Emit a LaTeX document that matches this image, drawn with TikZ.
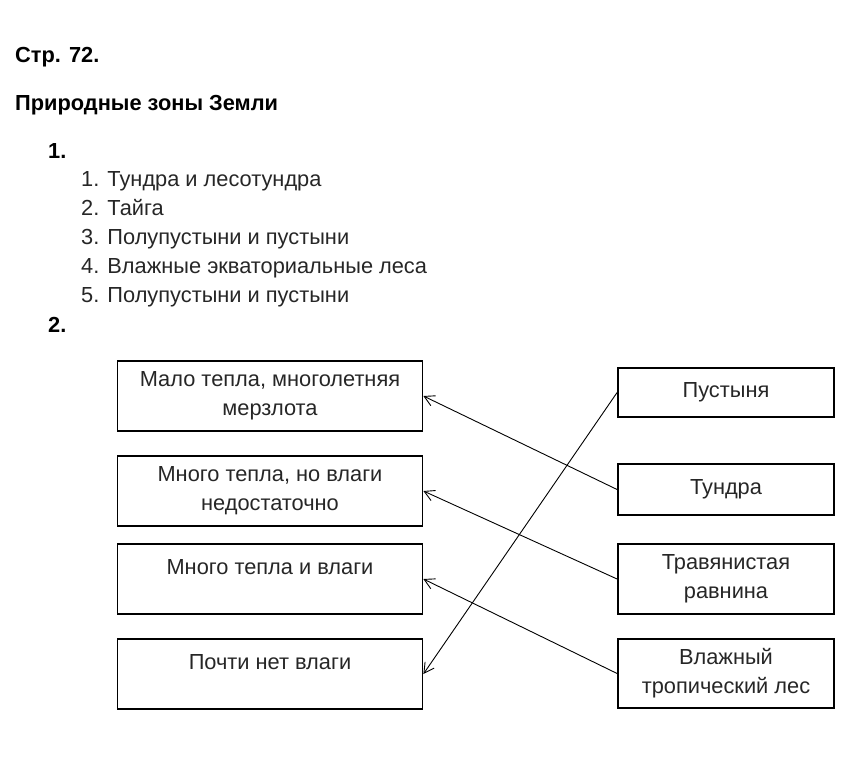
\documentclass[tikz,border=0pt]{standalone}
\usepackage{fontspec}
\setmainfont{Liberation Sans}
\usetikzlibrary{arrows.meta}
\begin{document}
\begin{tikzpicture}[x=1pt,y=-1pt,
		txt/.style={font=\fontsize{21.8}{28.8}\selectfont,text=black!85},
		hd/.style={font=\fontsize{21.8}{24}\selectfont\bfseries,inner sep=0pt,anchor=base west},
		item/.style={txt,inner sep=0pt,anchor=base west},
		zone/.style={draw,line width=1.8pt,txt,align=center,inner sep=2pt},
		link/.style={-{Straight Barb[length=10pt,width=11pt]},line width=0.9pt}]
		\useasboundingbox (0,0) rectangle (847,756);
		% heading and task 1
		\node[hd] (page) at (15,62) {Стр. 72.};
		\node[hd] (title) at (15,110) {Природные зоны Земли};
		\node[hd] (task1) at (48,158) {1.};
		\foreach \t [count=\i] in {Тундра и лесотундра,Тайга,Полупустыни и пустыни,Влажные экваториальные леса,Полупустыни и пустыни}
			\node[item] (it\i) at (81,{158+28.8*\i}) {\i. \t};
		\node[hd] (task2) at (48,332) {2.};
		% conditions
		\node[zone,minimum width=305pt,minimum height=70pt] (cold) at (270,396) {Мало тепла, многолетняя\\мерзлота};
		\node[zone,minimum width=305pt,minimum height=70pt] (dry) at (270,491) {Много тепла, но влаги\\недостаточно};
		\node[zone,minimum width=305pt,minimum height=70pt] (wet) at (270,579) {Много тепла и влаги\\[-14pt]\strut};
		\node[zone,minimum width=305pt,minimum height=70pt] (arid) at (270,674) {Почти нет влаги\\[-14pt]\strut};
		% zones
		\node[zone,minimum width=216pt,minimum height=49pt] (desert) at (726,392.5) {Пустыня};
		\node[zone,minimum width=216pt,minimum height=51pt] (tundra) at (726,489.5) {Тундра};
		\node[zone,minimum width=216pt,minimum height=70pt] (steppe) at (726,579) {Травянистая\\равнина};
		\node[zone,minimum width=216pt,minimum height=69pt] (forest) at (726,673.5) {Влажный\\тропический лес};
		\draw[link] (tundra.west) -- (cold.east);
		\draw[link] (steppe.west) -- (dry.east);
		\draw[link] (forest.west) -- (wet.east);
		\draw[link] (desert.west) -- (arid.east);
	\end{tikzpicture}
\end{document}
